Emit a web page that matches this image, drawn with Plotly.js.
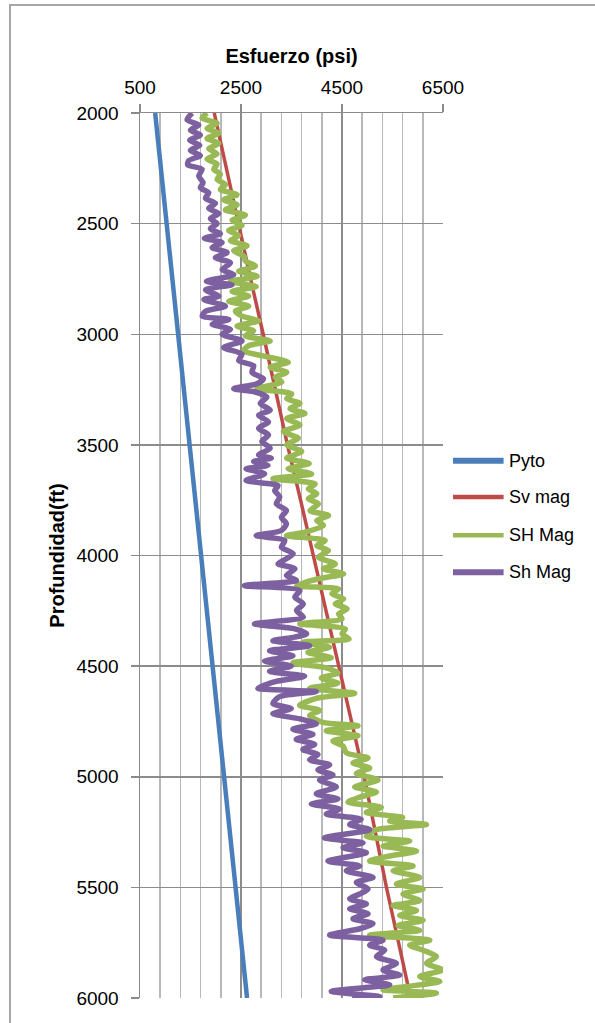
<!DOCTYPE html>
<html><head><meta charset="utf-8">
<script src="https://cdn.plot.ly/plotly-3.0.1.min.js"></script>
<style>html,body{margin:0;padding:0;background:#fff}#chart{width:595px;height:1023px}</style>
</head><body><div id="chart"></div>
<script>
// Series names
const seriesNames = ["Pyto", "Sv mag", "SH Mag", "Sh Mag"];

// Pyto (straight line)
const pytoDepth = [2000, 6000];
const pytoPsi = [800, 2620];

// Sv mag
const svDepth = [2000,2250,2500,2750,3000,3250,3500,3750,4000,4250,4500,4750,5000,5250,5500,5750,6000];
const svPsi   = [1970,2210,2440,2690,2940,3180,3420,3680,3930,4180,4430,4690,4940,5160,5380,5620,5860];

// SH Mag
const shMaxDepth = [2000,2023,2046,2069,2092,2115,2138,2161,2185,2208,2231,2254,2277,2300,2323,2346,2369,2392,2415,2438,2461,2485,2508,2531,2554,2577,2600,2623,2646,2669,2692,2715,2738,2761,2785,2806,2828,2851,2873,2896,2918,2940,2963,2985,3007,3030,3052,3075,3097,3127,3149,3172,3194,3216,3246,3269,3291,3313,3336,3358,3381,3410,3440,3470,3500,3530,3560,3584,3608,3631,3653,3676,3699,3721,3744,3766,3797,3819,3842,3864,3895,3910,3932,3955,3977,4008,4038,4060,4083,4105,4136,4151,4173,4196,4219,4241,4264,4286,4309,4332,4354,4377,4392,4415,4438,4462,4485,4508,4531,4554,4577,4600,4623,4646,4677,4700,4723,4754,4769,4792,4815,4838,4861,4892,4915,4938,4961,4985,5015,5046,5069,5092,5115,5138,5161,5184,5200,5216,5239,5269,5291,5313,5336,5358,5381,5403,5425,5455,5485,5507,5530,5560,5582,5604,5627,5649,5672,5694,5716,5739,5761,5784,5813,5843,5873,5903,5925,5948,5963,5978,6000];
const shMaxPsi   = [1828,1729,2026,1828,2059,1828,2059,1861,2026,1828,2026,1960,2092,2026,2191,2092,2422,2158,2422,2191,2587,2323,2521,2257,2455,2290,2620,2356,2554,2587,2785,2455,2818,2290,2800,2323,2651,2258,2651,2389,2520,2848,2422,2750,2586,3078,2651,2553,2914,3438,3078,3406,3176,3307,2815,3504,3406,3668,3471,3766,3406,3668,3340,3635,3406,3701,3406,3850,3433,3900,3133,3967,3833,4000,3833,4033,3867,4233,4000,4133,3767,3400,4167,4000,4233,4033,4367,4133,4533,4033,3600,4433,4300,4533,4367,4600,4433,4500,3667,4567,4500,4640,3726,4255,3825,4288,3528,4189,4420,4090,4420,3858,4751,3991,3660,4057,3858,4123,4817,4189,4817,4321,4519,4586,5015,4718,5048,4784,5214,4751,5181,4850,4619,5280,4982,5700,5445,6172,5181,4982,5841,5313,5974,5445,5048,5907,5511,6040,5577,6106,5709,6040,5511,5974,5643,6106,5610,6040,5048,6238,5841,6106,6370,6172,6490,6040,6437,5775,5313,6370,5511];

// Sh Mag
const shMinDepth = [2000,2031,2054,2077,2100,2123,2146,2169,2192,2215,2234,2254,2285,2315,2338,2361,2385,2408,2431,2454,2477,2500,2523,2546,2566,2585,2608,2631,2654,2677,2708,2731,2761,2776,2799,2828,2843,2873,2896,2918,2933,2955,2978,3000,3030,3060,3090,3119,3142,3172,3201,3224,3246,3261,3284,3313,3343,3366,3396,3425,3455,3485,3515,3545,3560,3575,3593,3608,3631,3661,3684,3706,3736,3766,3797,3827,3857,3887,3910,3932,3962,3992,4023,4038,4060,4090,4113,4136,4158,4188,4219,4249,4279,4309,4332,4354,4369,4385,4408,4431,4454,4477,4500,4523,4546,4569,4600,4615,4638,4669,4692,4715,4738,4761,4785,4808,4831,4854,4877,4900,4923,4946,4969,4992,5015,5046,5077,5100,5123,5146,5169,5192,5216,5239,5276,5299,5321,5343,5381,5403,5425,5455,5478,5507,5530,5552,5575,5597,5619,5642,5664,5687,5716,5739,5761,5784,5813,5843,5873,5896,5918,5940,5970,5993,6000];
const shMinPsi   = [1531,1432,1663,1498,1696,1485,1683,1498,1696,1465,1445,1729,1663,1749,1696,1861,1795,1993,1861,2059,1894,2026,1894,2092,1775,2125,1927,2224,1993,2290,2125,2356,1815,2323,1798,2061,1766,2192,1798,1733,2258,1930,2290,2126,2520,2159,2520,2454,2750,2717,2946,2815,2356,2782,3012,2881,3078,2848,3045,2848,3045,2914,3078,2848,3100,2750,3033,2600,2967,2600,3233,3167,3267,3200,3400,3300,3400,3300,2800,3367,3300,3533,3333,3233,3567,3400,3600,2567,3667,3567,3733,3600,3733,2767,3567,3800,3560,3131,3858,3065,3528,2966,3495,3065,3759,3197,2834,3991,3264,3131,3495,3131,3660,3991,3528,3925,3594,3958,3726,4024,3858,4255,4024,4321,4057,4387,3991,4420,3892,4453,4189,4880,4652,5048,4156,4916,4520,4982,4222,4850,4586,5114,4784,5015,4850,4652,4982,4652,5015,4718,5114,4850,4255,5313,5048,5346,5181,5577,5313,5643,4949,5445,4288,5247,4700];

const colors = ["#4A7EBB", "#BE4B48", "#98B954", "#7D60A0"];
const widths = [4.5, 3.5, 5.5, 5.5];
const xs = [pytoPsi, svPsi, shMaxPsi, shMinPsi];
const ys = [pytoDepth, svDepth, shMaxDepth, shMinDepth];

const traces = seriesNames.map((n, i) => ({
  type: "scatter", mode: "lines", name: n,
  x: xs[i], y: ys[i],
  line: {color: colors[i], width: widths[i], shape: i >= 2 ? "spline" : "linear", smoothing: 0.7},
  showlegend: false,
  hoverinfo: "skip"
}));

// Legend drawn as line samples + labels beside the plot (paper coordinates)
const legendRowsY = [0.607, 0.566, 0.523, 0.481];
const legendShapes = seriesNames.map((n, i) => ({
  type: "line", xref: "paper", yref: "paper",
  x0: 1.033, x1: 1.200, y0: legendRowsY[i], y1: legendRowsY[i],
  line: {color: colors[i], width: i === 0 || i === 3 ? 6 : 4.5}
}));
const legendLabels = seriesNames.map((n, i) => ({
  xref: "paper", yref: "paper", x: 1.212, y: legendRowsY[i],
  xanchor: "left", yanchor: "middle", text: n, showarrow: false,
  font: {size: 18, color: "#000"}
}));

const layout = {
  width: 595, height: 1023,
  margin: {l: 140, r: 152, t: 113, b: 25},
  paper_bgcolor: "#fff", plot_bgcolor: "#fff",
  font: {family: "Liberation Sans, Arial, sans-serif", color: "#000", size: 19},
  showlegend: false,
  xaxis: {
    side: "top", range: [500, 6500], tick0: 500, dtick: 2000,
    showgrid: true, gridcolor: "#8c8c8c", gridwidth: 1.5,
    showline: true, linecolor: "#8a8a8a", linewidth: 1.5, mirror: false,
    ticks: "outside", ticklen: 8, tickcolor: "#8a8a8a", tickwidth: 1.5,
    ticklabelstandoff: 2,
    tickfont: {size: 19},
    zeroline: false,
    minor: {tick0: 500, dtick: 400, showgrid: true, gridcolor: "#b8b8b8", gridwidth: 1.5, ticks: ""},
    title: {text: "<b>Esfuerzo (psi)</b>", font: {size: 20}, standoff: 8}
  },
  yaxis: {
    range: [6000, 2000], tick0: 2000, dtick: 500,
    showgrid: true, gridcolor: "#8c8c8c", gridwidth: 1.5,
    showline: true, linecolor: "#8a8a8a", linewidth: 1.5,
    ticks: "outside", ticklen: 8, tickcolor: "#8a8a8a", tickwidth: 1.5,
    ticklabelstandoff: 8,
    tickfont: {size: 19},
    zeroline: false,
    title: {text: "<b>Profundidad(ft)</b>", font: {size: 20}, standoff: 6}
  },
  shapes: [{
    type: "rect", xref: "paper", yref: "paper",
    x0: -0.429, x1: 1.52, y0: -0.035, y1: 1.122,
    line: {color: "#a6a6a6", width: 2}, fillcolor: "rgba(0,0,0,0)", layer: "below"
  }].concat(legendShapes),
  annotations: legendLabels
};

Plotly.newPlot("chart", traces, layout, {displayModeBar: false, staticPlot: true});
</script>
</body></html>
